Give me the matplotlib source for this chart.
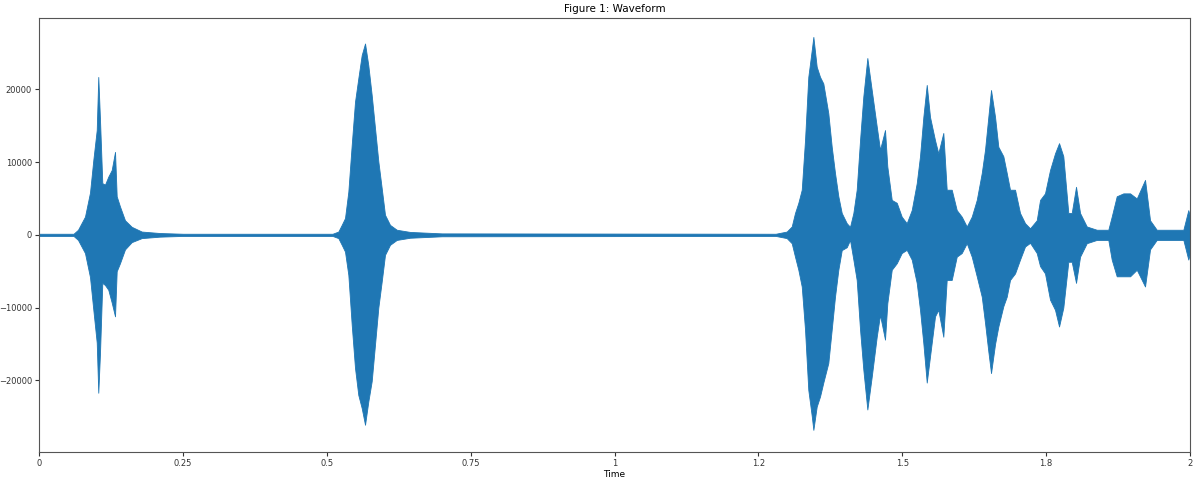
import matplotlib
matplotlib.use("Agg")
import matplotlib.pyplot as plt
import numpy as np

# envelope of the waveform (time in s, amplitude)
wave_time = [
    0.0, 0.060, 0.0678, 0.0799, 0.0886, 0.0944, 0.1003, 0.1030, 0.1060, 0.1100,
    0.1147, 0.1204, 0.1263, 0.1321, 0.1350, 0.1407, 0.1494, 0.1611, 0.1785, 0.2100,
    0.2500, 0.5100,
    0.5201, 0.5260, 0.5317, 0.5375, 0.5434, 0.5491, 0.5548, 0.5607, 0.5665, 0.5722,
    0.5781, 0.5838, 0.5896, 0.5955, 0.6012, 0.6099, 0.6216, 0.6447, 0.7000, 1.2800,
    1.2992, 1.3079, 1.3136, 1.3194, 1.3253, 1.3310, 1.3367, 1.3427, 1.3455, 1.3513,
    1.3571, 1.3628, 1.3715, 1.3774, 1.3831, 1.3889, 1.3948, 1.4035, 1.4092, 1.4150,
    1.4208, 1.4266, 1.4323, 1.4393, 1.4469, 1.4556, 1.4613, 1.4700, 1.4740, 1.4817,
    1.4904, 1.4990, 1.5077, 1.5164, 1.5251, 1.5308, 1.5366, 1.5425, 1.5482, 1.5569,
    1.5626, 1.5713, 1.5772, 1.5859, 1.5946, 1.6033, 1.6120, 1.6207, 1.6294, 1.6381,
    1.6438, 1.6495, 1.6542, 1.6612, 1.6669, 1.6756, 1.6815, 1.6872, 1.6959, 1.7046,
    1.7133, 1.7220, 1.7336, 1.7394, 1.7480, 1.7567, 1.7654, 1.7724, 1.7798, 1.7885,
    1.7944, 1.8019, 1.8089, 1.8205, 1.8379, 1.8580, 1.8639, 1.8726, 1.8841, 1.8958,
    1.9074, 1.9218, 1.9305, 1.9421, 1.9884, 1.9970, 2.0,
]
wave_upper = [
    150, 150, 700, 2500, 5800, 10300, 14400, 21700, 15800, 7100,
    6900, 8000, 8900, 11400, 5300, 3900, 2000, 1100, 450, 250,
    150, 150,
    450, 1370, 2300, 5950, 12400, 18300, 21500, 24700, 26300, 23300,
    19200, 14700, 10100, 6400, 2750, 1370, 700, 400, 200, 150,
    450, 1150, 3000, 4400, 6200, 13000, 21700, 25400, 27200, 23100,
    21700, 20800, 16700, 12100, 8500, 5300, 3000, 1600, 1100, 3000,
    6200, 13000, 19000, 24300, 19900, 14900, 11700, 14400, 9400, 4800,
    4400, 2500, 1600, 3400, 7100, 10800, 16200, 20600, 16200, 13000,
    11200, 14000, 6200, 6200, 3400, 2500, 1150, 2500, 4800, 8500,
    11700, 16200, 19900, 16200, 12100, 10800, 8500, 6200, 6200, 3000,
    1600, 900, 2000, 4800, 5700, 8900, 11200, 12600, 10800, 3000,
    3000, 6600, 3000, 1150, 700, 700, 2500, 5300, 5700, 5700,
    5000, 7550, 2000, 700, 700, 3400, 2500,
]
wave_lower = [
    -150, -150, -700, -2500, -5800, -10300, -14800, -21700, -16200, -6600,
    -6900, -7550, -9300, -11200, -5000, -3900, -2000, -1000, -450, -250,
    -150, -150,
    -450, -1370, -2300, -5500, -12400, -18300, -22000, -23800, -26100, -22900,
    -20100, -15100, -10000, -6400, -2750, -1370, -700, -400, -200, -150,
    -450, -1150, -3000, -4800, -7100, -13000, -21300, -24900, -26800, -23600,
    -22200, -20300, -17600, -13000, -8500, -4800, -2100, -1700, -700, -3400,
    -6200, -13000, -18500, -24000, -19500, -14000, -11000, -14400, -9400, -4800,
    -3900, -2500, -2060, -3400, -6600, -10300, -14900, -20300, -16700, -11200,
    -10300, -14000, -6200, -6200, -3000, -2500, -1150, -3000, -5700, -8500,
    -12100, -16000, -19000, -15000, -12600, -9800, -8500, -6200, -5300, -3400,
    -1600, -1100, -2500, -4300, -5300, -8900, -10300, -12600, -10000, -3700,
    -3700, -6600, -3000, -1150, -700, -700, -3400, -5700, -5700, -5700,
    -4800, -7100, -2000, -700, -700, -3400, -2500,
]

x_ticks = [0, 0.25, 0.5, 0.75, 1, 1.25, 1.5, 1.75, 2]
x_tick_labels = ["0", "0.25", "0.5", "0.75", "1", "1.2", "1.5", "1.8", "2"]
y_ticks = [-20000, -10000, 0, 10000, 20000]

color = "#1f77b4"

fig = plt.figure(figsize=(12, 4.8), dpi=100)
ax = fig.add_axes([0.0325, 0.059, 0.9592, 0.9035])

t = np.array(wave_time)
ax.fill_between(t, wave_lower, wave_upper, color=color, linewidth=0.6, edgecolor=color)

ax.set_xlim(0, 2)
ax.set_ylim(-29800, 29800)
ax.set_xticks(x_ticks)
ax.set_xticklabels(x_tick_labels)
ax.set_yticks(y_ticks)
ax.tick_params(labelsize=6, length=3, width=0.8, pad=2, colors="#333333")
for s in ax.spines.values():
    s.set_color("#555555")

ax.set_xlabel("Time", fontsize=6.5, labelpad=2)
ax.set_title("Figure 1: Waveform", fontsize=7.5, pad=4)

fig.savefig("out.png", dpi=100)
